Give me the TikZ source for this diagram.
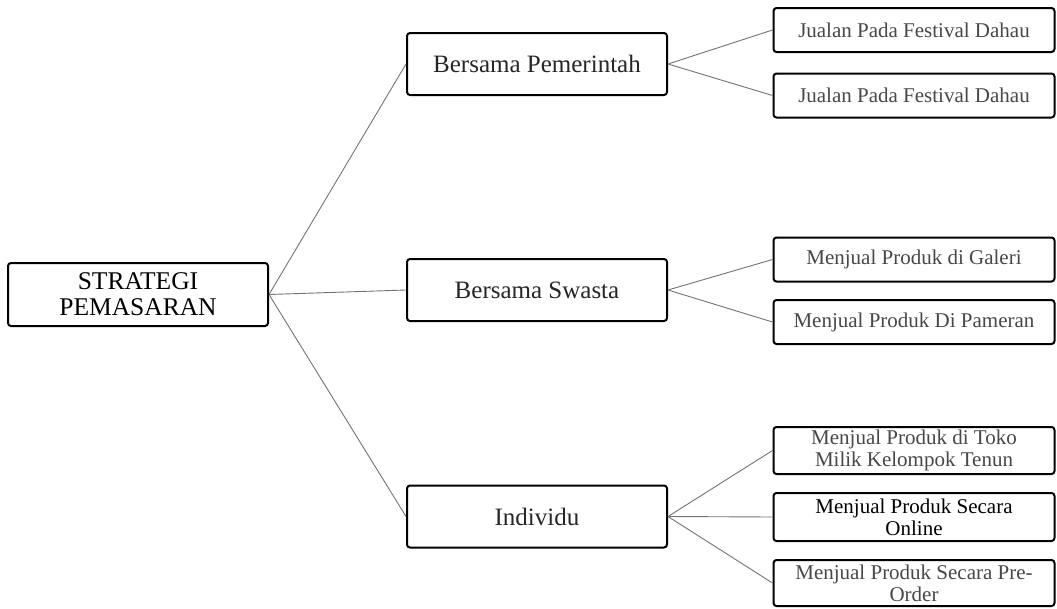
\documentclass[tikz,border=0pt]{standalone}
\usepackage{fontspec}
\setmainfont{Liberation Serif}
\begin{document}
\begin{tikzpicture}[x=1pt,y=-1pt,
    box/.style={draw, line width=2pt, rounded corners=3pt, align=center, inner sep=0pt},
    rootbox/.style={box, minimum width=260pt, minimum height=63pt,
        font=\fontsize{25.5}{26}\selectfont},
    midbox/.style={box, minimum width=260pt, minimum height=62pt,
        font=\fontsize{25}{26}\selectfont, text=black!85},
    leafbox/.style={box, minimum width=281pt, minimum height=44pt,
        font=\fontsize{21}{22}\selectfont, text=black!72},
    link/.style={draw=black!55, line width=0.9pt}]

    % 1. Fix the page size
    \useasboundingbox (0,0) rectangle (1057,608);

    % 2. Root box
    \node [rootbox] (root) at (138,294.5) {STRATEGI\\PEMASARAN};

    % 3. Second level
    \node [midbox] (pem) at (537,64) {Bersama Pemerintah};
    \node [midbox] (swa) at (537,290) {Bersama Swasta};
    \node [midbox] (ind) at (537,516.5) {Individu};

    % 4. Leaves
    \node [leafbox] (pem1) at (914,30) {Jualan Pada Festival Dahau};
    \node [leafbox] (pem2) at (914,95.5) {Jualan Pada Festival Dahau};
    \node [leafbox] (swa1) at (914,259.5) {Menjual Produk di Galeri};
    \node [leafbox] (swa2) at (914,322) {Menjual Produk Di Pameran};
    \node [leafbox, minimum height=47pt] (ind1) at (914,450.5)
        {Menjual Produk di Toko\\Milik Kelompok Tenun};
    \node [leafbox, minimum height=48pt, text=black] (ind2) at (914,517)
        {Menjual Produk Secara\\Online};
    \node [leafbox, minimum height=46pt] (ind3) at (914,583)
        {Menjual Produk Secara Pre-\\Order};

    % 5. Connectors
    \foreach \m in {pem,swa,ind}
        \draw [link] (root.east) -- (\m.west);
    \foreach \l in {pem1,pem2}
        \draw [link] (pem.east) -- (\l.west);
    \foreach \l in {swa1,swa2}
        \draw [link] (swa.east) -- (\l.west);
    \foreach \l in {ind1,ind2,ind3}
        \draw [link] (ind.east) -- (\l.west);

\end{tikzpicture}
\end{document}
